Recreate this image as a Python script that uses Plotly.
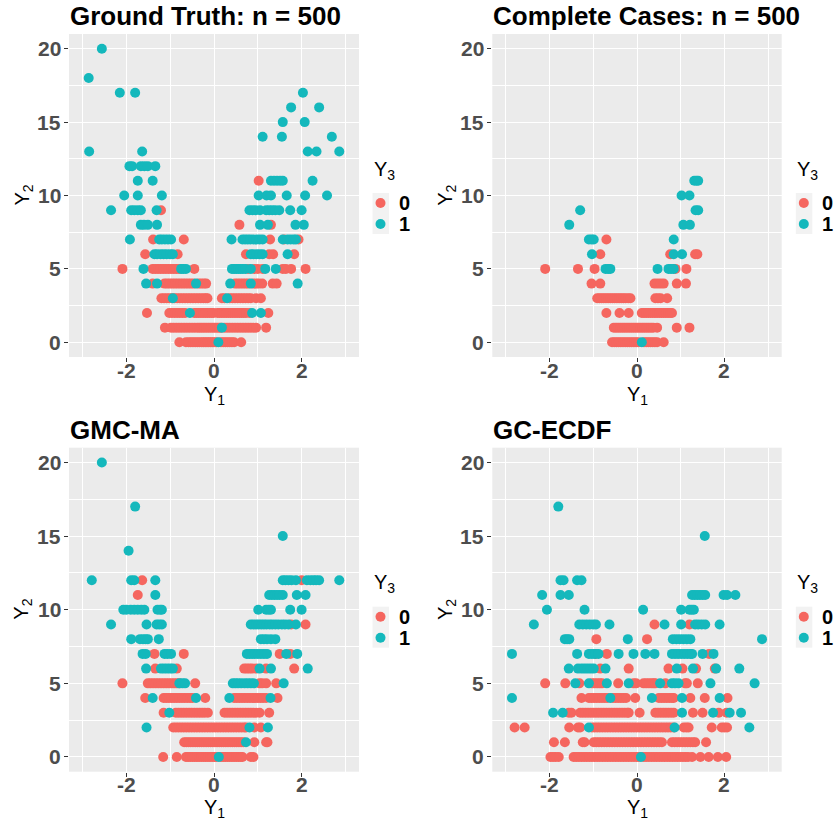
import plotly.graph_objects as go

# ---------------------------------------------------------------------------
# Data: Y1 values grouped by the integer Y2 value they sit on, split by Y3.
# ---------------------------------------------------------------------------
PANEL_TITLES = ["Ground Truth: n = 500", "Complete Cases: n = 500", "GMC-MA", "GC-ECDF"]
Y3_LEVELS = ["0", "1"]
X_TICKS = [-2, 0, 2]
X_TICK_TEXT = ["-2", "0", "2"]
Y_TICKS = [0, 5, 10, 15, 20]

# Ground truth
gt_y3_0 = {
    0: [-0.79, -0.64, -0.58, -0.53, -0.48, -0.43, -0.38, -0.33, -0.28, -0.24, -0.20, -0.16, -0.12, -0.08,
        -0.04, 0.00, 0.05, 0.16, 0.21, 0.26, 0.31, 0.36, 0.41, 0.46, 0.62],
    1: [-1.12, -0.98, -0.92, -0.86, -0.80, -0.74, -0.68, -0.62, -0.56, -0.50, -0.44, -0.38, -0.33, -0.28,
        -0.23, -0.18, -0.13, -0.08, -0.03, 0.02, 0.07, 0.12, 0.16, 0.24, 0.30, 0.36, 0.42, 0.48, 0.54,
        0.60, 0.66, 0.72, 0.78, 0.84, 0.90, 0.96, 1.19],
    2: [-1.53, -1.02, -0.96, -0.90, -0.84, -0.78, -0.72, -0.66, -0.45, -0.40, -0.35, -0.30, -0.25, -0.20,
        -0.15, -0.10, -0.05, -0.01, 0.08, 0.13, 0.18, 0.23, 0.28, 0.33, 0.38, 0.43, 0.48, 0.53, 0.58,
        0.63, 0.68, 0.73, 0.81, 1.24],
    3: [-1.20, -1.14, -1.08, -1.02, -0.96, -0.90, -0.84, -0.78, -0.72, -0.66, -0.60, -0.54, -0.48, -0.42,
        -0.36, -0.30, -0.24, -0.19, -0.15, 0.18, 0.24, 0.36, 0.42, 0.48, 0.54, 0.60, 0.66, 0.72, 0.78,
        0.84, 0.96, 1.07],
    4: [-1.40, -1.13, -1.07, -1.01, -0.95, -0.89, -0.83, -0.77, -0.71, -0.65, -0.59, -0.53, -0.47, -0.35,
        -0.29, -0.23, -0.18, 0.48, 0.54, 0.60, 0.66, 0.72, 0.78, 0.90, 0.96, 1.02, 1.10, 1.34, 1.43],
    5: [-2.09, -1.40, -1.34, -1.28, -1.22, -1.16, -1.10, -1.04, -0.98, -0.92, -0.86, -0.80, -0.45, 0.78,
        0.92, 1.00, 1.11, 1.57, 1.64, 1.76, 2.09],
    6: [-1.57, -0.83, 0.73, 1.26, 1.35, 1.83],
    7: [-1.39, -0.69, 1.28, 1.60, 1.93],
    8: [0.58, 1.30],
    9: [-1.21],
    11: [1.02],
}
gt_y3_1 = {
    0: [0.10],
    1: [0.18],
    2: [-0.55, 0.87, 1.07],
    3: [-0.94, 0.30],
    4: [-1.55, -1.30, -0.41, 0.37, 0.84, 1.91],
    5: [-1.61, -0.75, -0.70, -0.64, 0.41, 0.46, 0.51, 0.56, 0.61, 0.66, 0.72, 0.84, 1.17, 1.41],
    6: [-1.36, -1.30, -1.22, -1.15, -1.08, -1.00, -0.94, 0.84, 0.90, 0.97, 1.04, 1.11, 1.68],
    7: [-1.92, -1.25, -1.19, -1.12, -1.05, -0.98, 0.40, 0.65, 0.71, 0.77, 0.83, 0.90, 0.97, 1.04, 1.11,
        1.57, 1.68, 1.75, 1.82, 1.87],
    8: [-1.67, -1.60, -1.51, -1.30, 1.05, 1.23, 1.86, 2.05],
    9: [-2.35, -1.89, -1.82, -1.74, -1.67, -1.31, 0.81, 0.88, 0.95, 1.05, 1.19, 1.26, 1.33, 1.40, 1.49,
        1.74, 2.00],
    10: [-2.05, -1.74, -1.19, 1.02, 1.20, 1.30, 1.66, 2.08, 2.58],
    11: [-1.74, -1.40, 1.30, 1.37, 1.44, 1.51, 1.57, 2.25],
    12: [-1.93, -1.87, -1.67, -1.59, -1.51, -1.34],
    13: [-2.85, -1.64, 2.14, 2.34, 2.86],
    14: [1.11, 1.55, 2.69],
    15: [1.57, 2.07],
    16: [1.76, 2.40],
    17: [-2.15, -1.80, 2.03],
    18: [-2.86],
    20: [-2.56],
}

# Complete cases
cc_y3_0 = {
    0: [-0.57, -0.52, -0.47, -0.42, -0.37, -0.32, -0.27, -0.22, -0.17, -0.12, -0.07, -0.02, 0.03, 0.16,
        0.21, 0.26, 0.31, 0.36, 0.41, 0.46, 0.61],
    1: [-0.53, -0.48, -0.43, -0.38, -0.33, -0.28, -0.23, -0.18, -0.13, -0.08, -0.03, 0.02, 0.07, 0.12,
        0.17, 0.22, 0.27, 0.32, 0.37, 0.46, 0.91, 1.20],
    2: [-0.70, -0.40, -0.19, 0.11, 0.16, 0.21, 0.26, 0.31, 0.36, 0.41, 0.46, 0.51, 0.56, 0.61, 0.66,
        0.71, 0.76, 0.80],
    3: [-0.91, -0.86, -0.81, -0.76, -0.71, -0.66, -0.61, -0.56, -0.51, -0.46, -0.41, -0.36, -0.31,
        -0.26, -0.20, -0.15, 0.42, 0.48, 0.54, 0.69],
    4: [-1.04, -0.84, 0.40, 0.47, 0.54, 0.61, 0.91, 1.12],
    5: [-2.10, -1.35, -0.97, 0.88, 1.13],
    6: [-0.84, 0.76, 1.33, 1.38],
    7: [-0.70],
}
cc_y3_1 = {
    0: [0.11],
    5: [-0.72, -0.66, -0.61, 0.47, 0.72, 0.78, 0.84],
    6: [-1.03, 0.84, 1.03],
    7: [-1.10, -1.04, -0.99, 0.84],
    8: [-1.55, 1.06, 1.21],
    9: [-1.30, 1.34, 1.40],
    10: [1.02, 1.20],
    11: [1.31, 1.36, 1.40],
}

# GMC-MA imputation
gmc_y3_0 = {
    0: [-1.16, -0.85, -0.64, -0.59, -0.54, -0.49, -0.44, -0.39, -0.34, -0.29, -0.24, -0.19, -0.14, -0.09,
        -0.04, 0.01, 0.05, 0.16, 0.21, 0.26, 0.31, 0.36, 0.41, 0.46, 0.51, 0.56, 0.61, 0.65, 0.84, 0.90],
    1: [-0.68, -0.63, -0.58, -0.53, -0.48, -0.43, -0.38, -0.33, -0.28, -0.23, -0.18, -0.13, -0.08, -0.03,
        0.02, 0.07, 0.12, 0.17, 0.22, 0.27, 0.32, 0.37, 0.42, 0.47, 0.52, 0.57, 0.62, 0.67, 0.92, 1.19,
        1.22],
    2: [-0.93, -0.87, -0.81, -0.75, -0.69, -0.63, -0.57, -0.51, -0.45, -0.39, -0.33, -0.27, -0.21, -0.15,
        -0.09, -0.03, 0.03, 0.09, 0.15, 0.21, 0.27, 0.33, 0.39, 0.45, 0.51, 0.57, 0.63, 0.69, 0.73, 0.92,
        1.07],
    3: [-1.15, -0.87, -0.81, -0.75, -0.69, -0.63, -0.57, -0.51, -0.45, -0.39, -0.33, -0.27, -0.21, -0.14,
        0.24, 0.30, 0.36, 0.42, 0.48, 0.54, 0.60, 0.66, 0.72, 0.78, 0.84, 0.90, 0.96, 1.04, 1.26],
    4: [-1.57, -1.15, -1.09, -1.03, -0.97, -0.91, -0.85, -0.79, -0.73, -0.67, -0.61, -0.55, -0.49, -0.20,
        0.46, 0.52, 0.58, 0.64, 0.70, 0.76, 0.82, 0.88, 0.94, 1.00, 1.06, 1.12, 1.19, 1.45],
    5: [-2.09, -1.51, -1.45, -1.39, -1.33, -1.27, -1.21, -1.15, -1.09, -1.03, -0.97, -0.91, -0.85, -0.79,
        -0.43, 1.04, 1.10, 1.19, 1.42],
    6: [-1.34, -0.85, 0.69, 0.75, 0.81, 0.87, 0.96, 1.19, 1.83],
    7: [-1.36, -0.69, 1.50, 1.74],
    9: [1.76, 2.09],
    11: [-1.74],
    12: [-1.64, 2.00],
}
gmc_y3_1 = {
    0: [0.11],
    1: [0.73],
    2: [-1.54, 0.81, 1.23],
    3: [-1.02],
    4: [-1.40, -0.41, 0.35, 1.29],
    5: [-0.79, -0.72, -0.66, 0.43, 0.49, 0.55, 0.62, 0.70, 0.77, 0.84, 0.91, 1.59],
    6: [-1.55, -1.21, -1.14, -1.07, -1.00, -0.94, 1.04, 1.30, 2.14],
    7: [-1.63, -1.56, -1.13, -1.06, -0.98, 0.75, 0.81, 0.87, 0.93, 1.00, 1.07, 1.14, 1.21, 1.65, 1.90],
    8: [-1.89, -1.69, -1.62, -1.56, -1.51, -1.26, 1.07, 1.14, 1.21, 1.30, 1.40],
    9: [-2.35, -1.54, -1.31, -1.25, -1.19, 0.84, 0.90, 0.96, 1.02, 1.08, 1.14, 1.20, 1.27, 1.33, 1.40,
        1.47, 1.55, 1.62, 1.70, 1.87],
    10: [-2.07, -2.00, -1.90, -1.82, -1.74, -1.66, -1.59, -1.29, -1.23, -1.19, 1.01, 1.19, 1.25, 1.30,
         1.74, 2.00],
    11: [-1.34, 1.26, 1.32, 1.38, 1.44, 1.50, 1.57, 1.89, 2.09],
    12: [-2.79, -1.89, -1.82, -1.34, 1.57, 1.63, 1.70, 1.77, 1.87, 2.12, 2.20, 2.27, 2.33, 2.40, 2.86],
    14: [-1.95],
    15: [1.57],
    17: [-1.80],
    20: [-2.56],
}

# GC-ECDF imputation
gce_y3_0 = {
    0: [-1.98, -1.92, -1.86, -1.79, -1.45, -1.39, -1.33, -1.27, -1.21, -1.15, -1.09, -1.03, -0.97, -0.91,
        -0.85, -0.79, -0.73, -0.67, -0.61, -0.55, -0.49, -0.43, -0.37, -0.31, -0.25, -0.19, -0.13, -0.07,
        -0.01, 0.04, 0.15, 0.21, 0.27, 0.33, 0.39, 0.45, 0.51, 0.57, 0.63, 0.69, 0.75, 0.81, 0.87, 0.93,
        0.99, 1.05, 1.11, 1.17, 1.26, 1.45, 1.64, 1.85, 2.04],
    1: [-1.90, -1.65, -1.24, -1.20, -0.99, -0.93, -0.87, -0.81, -0.75, -0.69, -0.63, -0.57, -0.51, -0.45,
        -0.39, -0.33, -0.27, -0.21, -0.15, -0.09, -0.03, 0.03, 0.09, 0.15, 0.21, 0.27, 0.33, 0.39, 0.45,
        0.51, 0.57, 0.80, 0.86, 0.92, 0.98, 1.04, 1.10, 1.16, 1.22, 1.28, 1.33, 1.58],
    2: [-2.80, -2.57, -1.55, -1.35, -1.30, -1.03, -0.97, -0.91, -0.85, -0.79, -0.73, -0.67, -0.61, -0.55,
        -0.49, -0.43, -0.37, -0.31, -0.25, -0.19, -0.13, -0.07, -0.01, 0.05, 0.11, 0.17, 0.23, 0.29, 0.35,
        0.41, 0.47, 0.53, 0.59, 0.65, 0.71, 0.77, 0.84, 1.07, 1.13, 1.18, 1.71, 1.94, 2.00, 2.06],
    3: [-1.56, -1.50, -1.30, -1.24, -1.18, -1.12, -1.06, -1.00, -0.94, -0.88, -0.82, -0.76, -0.70, -0.64,
        -0.58, -0.52, -0.46, -0.40, -0.34, -0.28, -0.22, -0.19, 0.06, 0.42, 0.48, 0.54, 0.60, 0.66, 0.72,
        0.78, 0.84, 1.28, 1.50, 1.87, 2.05],
    4: [-1.27, -1.10, -1.04, -0.98, -0.92, -0.86, -0.80, -0.74, -0.68, -0.55, -0.49, -0.43, -0.37, -0.31,
        -0.25, -0.04, 0.50, 0.56, 0.62, 0.68, 0.74, 0.80, 0.84, 1.22, 1.55, 2.07],
    5: [-2.10, -1.64, -1.32, -1.03, -0.97, -0.91, -0.85, -0.80, -0.43, -0.08, -0.02, 0.15, 0.21, 0.27,
        0.33, 0.38, 0.42, 0.65, 1.10, 1.14, 1.39],
    6: [-0.84, -0.19, 0.72, 1.04, 1.35, 1.78],
    7: [-0.95, -0.69, 1.65],
    8: [-0.93, 0.23],
    9: [0.40, 1.20],
}
gce_y3_1 = {
    0: [0.09],
    2: [-1.10, 0.86, 2.57],
    3: [-1.92, -1.70, 1.03, 1.74, 2.12, 2.38],
    4: [-2.86, -0.61, 0.34, 1.03, 1.89],
    5: [-1.41, -1.10, -0.69, -0.19, 0.53, 0.80, 0.87, 0.95, 1.68, 2.69],
    6: [-1.56, -1.35, -1.27, -1.20, -1.13, -1.06, -0.99, -0.72, 0.91, 1.28, 1.81, 2.34],
    7: [-2.86, -1.37, -1.10, -1.03, -0.96, -0.88, -0.42, -0.08, 0.19, 0.40, 0.80, 0.87, 0.94, 1.01,
        1.08, 1.15, 1.22, 1.26, 1.50, 1.75],
    8: [-1.65, -1.60, -1.55, -0.21, 0.82, 0.90, 0.98, 1.06, 1.14, 1.22, 2.86],
    9: [-2.36, -1.32, -1.24, -1.16, -1.08, -1.00, -0.94, -0.63, 0.63, 1.01, 1.33, 1.40, 1.48, 1.56, 1.89],
    10: [-2.06, -1.20, 0.14, 1.01, 1.20, 1.25, 1.30],
    11: [-2.17, -1.75, -1.56, 1.26, 1.32, 1.38, 1.44, 1.50, 1.56, 1.98, 2.06, 2.25],
    12: [-1.75, -1.68, -1.37, -1.27],
    15: [1.55],
    17: [-1.80],
}

PANEL_DATA = [(gt_y3_0, gt_y3_1), (cc_y3_0, cc_y3_1), (gmc_y3_0, gmc_y3_1), (gce_y3_0, gce_y3_1)]

# ---------------------------------------------------------------------------
# Styling / layout
# ---------------------------------------------------------------------------
W, H = 839, 824
COLORS = ["#F5665F", "#14B8BC"]
PANEL_BG = "#EBEBEB"
FONT = "Liberation Sans, Arial, Helvetica, sans-serif"
MARKER_SIZE = 10
TICK_FONT = dict(family=FONT, size=21, color="#4D4D4D", weight="bold")

# panel boxes in pixels: (left, right, top, bottom)
PANEL_BOX = [(69, 359, 34, 357), (492.3, 781.7, 34, 357),
             (69, 359, 447.7, 771.7), (492.3, 781.7, 447.7, 771.7)]


def px_x(x):
    return x / W


def px_y(y):
    return 1 - y / H


def flatten(rows):
    xs, ys = [], []
    for y2, vals in rows.items():
        for v in vals:
            xs.append(v)
            ys.append(y2)
    return xs, ys


fig = go.Figure()
annotations = []
shapes = []

for i, ((rows0, rows1), title, box) in enumerate(zip(PANEL_DATA, PANEL_TITLES, PANEL_BOX)):
    ax = "" if i == 0 else str(i + 1)
    left, right, top, bottom = box
    for lvl, rows in enumerate((rows0, rows1)):
        xs, ys = flatten(rows)
        fig.add_trace(go.Scatter(
            x=xs, y=ys, mode="markers", xaxis="x" + ax, yaxis="y" + ax,
            marker=dict(size=MARKER_SIZE, color=COLORS[lvl], line=dict(width=0)),
            name=Y3_LEVELS[lvl], showlegend=False, hoverinfo="x+y",
        ))

    axis_common = dict(
        showgrid=True, gridcolor="white", gridwidth=1.1, zeroline=False, showline=False,
        ticks="outside", ticklen=4, tickwidth=1, tickcolor="#333333",
        showticklabels=False, fixedrange=True,
    )
    fig.layout["xaxis" + ax] = dict(
        axis_common, domain=[px_x(left), px_x(right)], range=[-3.31, 3.31],
        tickmode="array", tickvals=X_TICKS, anchor="y" + ax,
        minor=dict(tickmode="linear", tick0=-3, dtick=2, showgrid=True, gridcolor="white",
                   gridwidth=0.55, ticks=""),
    )
    fig.layout["yaxis" + ax] = dict(
        axis_common, domain=[px_y(bottom), px_y(top)], range=[-1, 21],
        tickmode="array", tickvals=Y_TICKS, anchor="x" + ax,
        minor=dict(tickmode="linear", tick0=2.5, dtick=5, showgrid=True, gridcolor="white",
                   gridwidth=0.55, ticks=""),
    )

    dx = left - 69
    dy = top - 34
    cx = (left + right) / 2
    cy = (top + bottom) / 2

    # tick labels, placed on the axis scales
    for tv, tt in zip(X_TICKS, X_TICK_TEXT):
        annotations.append(dict(
            text=tt, x=tv, xref="x" + ax, y=px_y(370.5 + dy), yref="paper",
            xanchor="center", yanchor="middle", showarrow=False, font=TICK_FONT,
        ))
    for tv in Y_TICKS:
        annotations.append(dict(
            text=str(tv), x=px_x(63 + dx), xref="paper", y=tv, yref="y" + ax,
            xanchor="right", yanchor="middle", showarrow=False, font=TICK_FONT,
        ))

    # panel title
    annotations.append(dict(
        text=title, x=px_x(left - 1), y=px_y(16 + dy), xref="paper", yref="paper",
        xanchor="left", yanchor="middle", showarrow=False,
        font=dict(family=FONT, size=26, color="black", weight="bold"),
    ))
    # axis titles
    annotations.append(dict(
        text="Y<sub>1</sub>", x=px_x(cx), y=px_y(395 + dy), xref="paper", yref="paper",
        xanchor="center", yanchor="middle", showarrow=False,
        font=dict(family=FONT, size=20, color="black"),
    ))
    annotations.append(dict(
        text="Y<sub>2</sub>", x=px_x(23 + dx), y=px_y(cy), xref="paper", yref="paper",
        xanchor="center", yanchor="middle", showarrow=False, textangle=-90,
        font=dict(family=FONT, size=20, color="black"),
    ))
    # legend: title, key background, keys and labels
    annotations.append(dict(
        text="Y<sub>3</sub>", x=px_x(372 + dx), y=px_y(170 + dy), xref="paper", yref="paper",
        xanchor="left", yanchor="middle", showarrow=False,
        font=dict(family=FONT, size=20, color="black"),
    ))
    shapes.append(dict(
        type="rect", xref="paper", yref="paper", layer="below", line=dict(width=0),
        fillcolor="#F2F2F2",
        x0=px_x(372.5 + dx), x1=px_x(389 + dx), y0=px_y(234 + dy), y1=px_y(193 + dy),
    ))
    for lvl, ky in enumerate((203, 224)):
        r = MARKER_SIZE / 2
        kx = 380.5 + dx
        shapes.append(dict(
            type="circle", xref="paper", yref="paper", line=dict(width=0),
            fillcolor=COLORS[lvl],
            x0=px_x(kx - r), x1=px_x(kx + r), y0=px_y(ky + dy + r), y1=px_y(ky + dy - r),
        ))
        annotations.append(dict(
            text=Y3_LEVELS[lvl], x=px_x(397 + dx), y=px_y(ky + dy), xref="paper",
            yref="paper", xanchor="left", yanchor="middle", showarrow=False,
            font=dict(family=FONT, size=20, color="black", weight="bold"),
        ))

fig.update_layout(
    width=W, height=H, margin=dict(l=0, r=0, t=0, b=0),
    paper_bgcolor="white", plot_bgcolor=PANEL_BG,
    annotations=annotations, shapes=shapes, showlegend=False,
    font=dict(family=FONT),
)

fig.write_html("out.html")
